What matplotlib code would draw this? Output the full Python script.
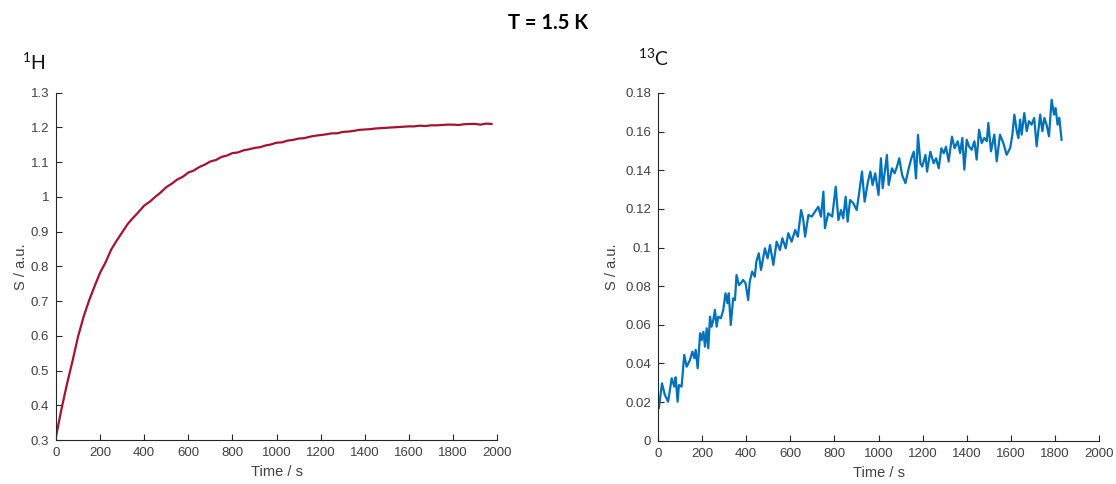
import numpy as np
import matplotlib.pyplot as plt

plt.rcParams['font.family'] = ['Liberation Sans', 'DejaVu Sans']
plt.rcParams['mathtext.fontset'] = 'custom'
plt.rcParams['mathtext.rm'] = 'Lato'

# 1H build-up
t_h = [0, 25, 50, 75, 100, 125, 150, 175, 200, 225, 250, 275, 300, 325, 350,
       375, 400, 425, 450, 475, 500, 525, 550, 575, 600, 625, 650, 675, 700,
       725, 750, 775, 800, 825, 850, 875, 900, 925, 950, 975, 1000, 1025,
       1050, 1075, 1100, 1125, 1150, 1175, 1200, 1225, 1250, 1275, 1300,
       1325, 1350, 1375, 1400, 1425, 1450, 1475, 1500, 1525, 1550, 1575,
       1600, 1625, 1650, 1675, 1700, 1725, 1750, 1775, 1800, 1825, 1850,
       1875, 1900, 1925, 1950, 1975]
s_h = [0.31, 0.39, 0.462, 0.528, 0.598, 0.655, 0.702, 0.743, 0.782, 0.812,
       0.848, 0.874, 0.898, 0.922, 0.94, 0.957, 0.975, 0.986, 1.0, 1.013,
       1.028, 1.038, 1.05, 1.058, 1.07, 1.076, 1.086, 1.093, 1.102, 1.106,
       1.115, 1.119, 1.126, 1.128, 1.134, 1.137, 1.141, 1.143, 1.148, 1.151,
       1.156, 1.157, 1.162, 1.164, 1.168, 1.169, 1.173, 1.176, 1.178, 1.18,
       1.183, 1.183, 1.187, 1.188, 1.19, 1.193, 1.194, 1.195, 1.197, 1.198,
       1.199, 1.2, 1.201, 1.202, 1.203, 1.203, 1.205, 1.204, 1.206, 1.206,
       1.207, 1.208, 1.208, 1.207, 1.209, 1.21, 1.21, 1.208, 1.211, 1.21]

# 13C build-up
t_c = [4, 18, 31, 46, 62, 74, 80, 89, 95, 107, 119, 130, 145, 156, 165, 171,
       180, 191, 198, 206, 213, 221, 228, 236, 243, 251, 258, 266, 273, 285,
       296, 306, 315, 321, 330, 341, 349, 356, 367, 376, 386, 397, 409, 416,
       427, 439, 446, 457, 467, 485, 497, 508, 523, 538, 553, 564, 579, 591,
       606, 622, 634, 649, 659, 667, 682, 697, 712, 727, 739, 750, 757, 772,
       790, 806, 818, 830, 840, 851, 860, 871, 886, 901, 912, 925, 937, 952,
       963, 973, 985, 1000, 1011, 1019, 1038, 1046, 1061, 1073, 1084, 1094,
       1107, 1122, 1137, 1149, 1160, 1170, 1179, 1190, 1198, 1213, 1220,
       1235, 1250, 1261, 1273, 1285, 1296, 1306, 1318, 1333, 1345, 1359,
       1370, 1380, 1389, 1400, 1410, 1422, 1435, 1445, 1456, 1468, 1480,
       1491, 1498, 1510, 1525, 1536, 1551, 1566, 1581, 1597, 1607, 1616,
       1627, 1634, 1642, 1649, 1661, 1672, 1682, 1694, 1706, 1717, 1733,
       1743, 1752, 1762, 1773, 1785, 1796, 1803, 1812, 1820, 1830]
s_c = [0.017, 0.0297, 0.0237, 0.0202, 0.0323, 0.028, 0.0328, 0.0202, 0.0288,
       0.028, 0.0444, 0.0383, 0.0418, 0.0461, 0.0427, 0.047, 0.0375, 0.0556,
       0.0521, 0.0564, 0.0487, 0.0582, 0.0478, 0.0642, 0.059, 0.0625, 0.0677,
       0.059, 0.0642, 0.0634, 0.0677, 0.0763, 0.0711, 0.0763, 0.0599, 0.0737,
       0.0728, 0.0858, 0.0806, 0.0815, 0.0832, 0.0815, 0.0728, 0.0823, 0.0875,
       0.0849, 0.0927, 0.097, 0.0884, 0.0996, 0.0944, 0.1013, 0.091, 0.103,
       0.0987, 0.1048, 0.0996, 0.1074, 0.103, 0.1091, 0.1056, 0.1194, 0.1142,
       0.1056, 0.1168, 0.116, 0.1185, 0.1211, 0.116, 0.1289, 0.11, 0.1177,
       0.116, 0.1315, 0.1142, 0.1194, 0.1151, 0.1263, 0.1134, 0.1246, 0.1229,
       0.1194, 0.1281, 0.1393, 0.1237, 0.1341, 0.1393, 0.1324, 0.1384,
       0.1272, 0.1462, 0.1307, 0.1479, 0.1324, 0.141, 0.1384, 0.1419, 0.1462,
       0.1375, 0.1333, 0.141, 0.1462, 0.1496, 0.1358, 0.1583, 0.1436, 0.1419,
       0.1479, 0.1393, 0.1496, 0.1436, 0.1462, 0.141, 0.1514, 0.1488, 0.1522,
       0.1445, 0.1574, 0.1514, 0.155, 0.1489, 0.1567, 0.1403, 0.1558, 0.1524,
       0.1506, 0.155, 0.1455, 0.161, 0.1541, 0.1567, 0.155, 0.1645, 0.1498,
       0.1584, 0.1446, 0.1584, 0.1541, 0.148, 0.1515, 0.1584, 0.1688, 0.1602,
       0.1567, 0.1662, 0.1584, 0.1696, 0.1602, 0.1654, 0.1636, 0.1671,
       0.1524, 0.1688, 0.1602, 0.1671, 0.1636, 0.1576, 0.1765, 0.1688,
       0.1722, 0.1636, 0.1671, 0.1558]

fig = plt.figure(figsize=(11.16, 4.84), dpi=100)
ax1 = fig.add_axes([0.0502, 0.0909, 0.3952, 0.7176])
ax2 = fig.add_axes([0.5896, 0.0895, 0.3952, 0.7184])

ax1.plot(t_h, s_h, color='#A2142F', lw=1.6)
ax2.plot(t_c, s_c, color='#0072BD', lw=1.6)

ax1.set_ylim(0.3, 1.3)
ax1.set_yticks(np.arange(0.3, 1.31, 0.1))
ax1.set_yticklabels(['0.3', '0.4', '0.5', '0.6', '0.7', '0.8', '0.9', '1',
                     '1.1', '1.2', '1.3'])
ax2.set_ylim(0, 0.18)
ax2.set_yticks(np.arange(0, 0.181, 0.02))
ax2.set_yticklabels(['0', '0.02', '0.04', '0.06', '0.08', '0.1', '0.12',
                     '0.14', '0.16', '0.18'])

for ax in (ax1, ax2):
    ax.set_xlim(0, 2000)
    ax.set_xticks(range(0, 2001, 200))
    ax.spines['top'].set_visible(False)
    ax.spines['right'].set_visible(False)
    for s in ('left', 'bottom'):
        ax.spines[s].set_color('#262626')
        ax.spines[s].set_linewidth(0.8)
    ax.tick_params(direction='in', length=4, width=0.8, colors='#262626',
                   labelsize=9.5, labelcolor='#404040', pad=5)
    ax.set_xlabel('Time / s', fontsize=10.5, color='#404040')
    ax.set_ylabel('S / a.u.', fontsize=10.5, color='#404040')
    ax.xaxis.set_label_coords(0.5, -0.072)

ax1.yaxis.set_label_coords(-0.064, 0.5)
ax2.yaxis.set_label_coords(-0.088, 0.5)

fig.text(0.020, 0.855, r'$\mathregular{^{1}}$H', fontsize=14,
         family=['Lato', 'DejaVu Sans'], color='#111111')
fig.text(0.572, 0.865, r'$\mathregular{^{13}}$C', fontsize=14,
         family=['Lato', 'DejaVu Sans'], color='#111111')
fig.text(0.491, 0.953, 'T = 1.5 K', fontsize=14.5, fontweight='bold',
         ha='center', va='center', family=['Lato', 'DejaVu Sans'])

fig.savefig('out.png', dpi=100)
